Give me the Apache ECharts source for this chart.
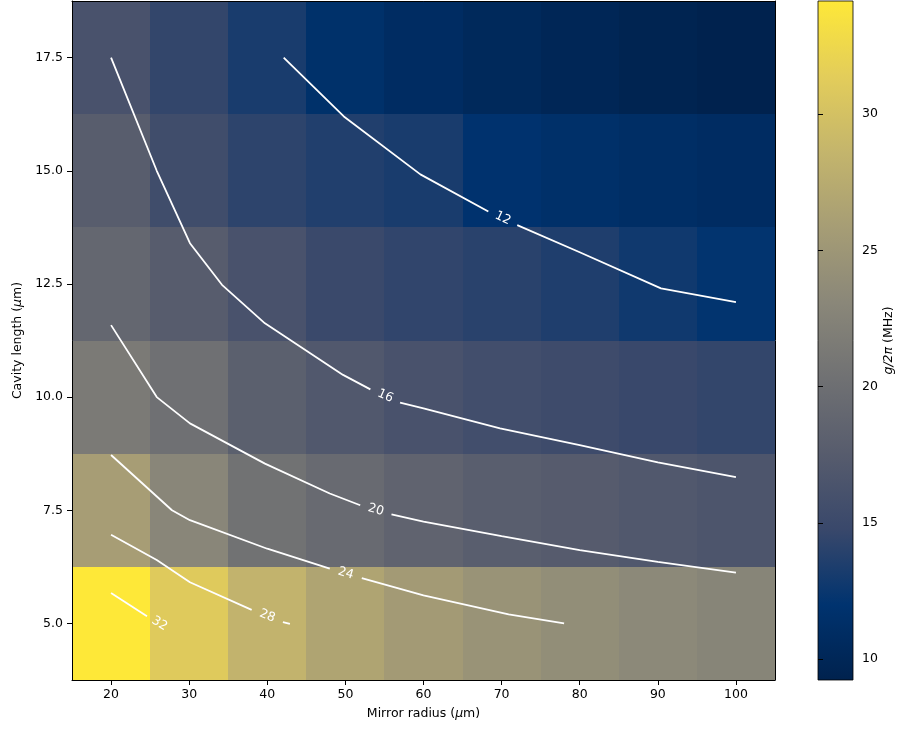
<!DOCTYPE html>
<html>
<head>
<meta charset="utf-8">
<script src="https://cdn.jsdelivr.net/npm/echarts@6/dist/echarts.min.js"></script>
<style>
  html, body { margin: 0; padding: 0; background: #ffffff; }
  #chart { width: 902px; height: 729px; }
</style>
</head>
<body>
<div id="chart"></div>
<script>
// Grid of simulated coupling strengths g/2π (MHz)
const radii = [20, 30, 40, 50, 60, 70, 80, 90, 100];      // mirror radius (µm)
const lengths = [5, 7.5, 10, 12.5, 15, 17.5];             // cavity length (µm)

// one row per cavity length, one value per mirror radius
const gL5    = [34.15, 31.0, 28.4, 26.7, 25.5, 24.6, 23.9, 23.3, 22.8];
const gL7_5  = [25.9, 23.0, 20.4, 19.4, 18.5, 17.8, 17.4, 17.0, 16.6];
const gL10   = [21.5, 20.2, 18.0, 17.0, 16.2, 15.6, 15.2, 14.8, 14.5];
const gL12_5 = [19.0, 17.5, 16.2, 14.9, 14.4, 14.0, 13.5, 12.8, 12.1];
const gL15   = [17.7, 15.4, 14.2, 13.6, 13.2, 11.9, 11.5, 11.2, 10.9];
const gL17_5 = [16.2, 14.5, 13.2, 11.6, 10.9, 10.3, 9.9, 9.5, 9.23];
const gRows = [gL5, gL7_5, gL10, gL12_5, gL15, gL17_5];

// contour levels and their traced paths, split where the inline label sits
const levels = [12, 16, 20, 24, 28, 32];
const c12Before = [[42.1, 17.5], [49.8, 16.2], [59.6, 14.92], [68.3, 14.1]];
const c12After  = [[72.0, 13.8], [80, 13.2], [90.4, 12.4], [100, 12.1]];
const c16Before = [[20, 17.5], [25.85, 15.0], [30.1, 13.4], [34.2, 12.48], [39.7, 11.63], [49.7, 10.49], [53.2, 10.17]];
const c16After  = [[57.0, 9.88], [60, 9.75], [69.8, 9.31], [80, 8.94], [90, 8.56], [100, 8.23]];
const c20Before = [[20, 11.59], [25.85, 10.0], [30.1, 9.42], [39.7, 8.53], [48, 7.87], [51.9, 7.61]];
const c20After  = [[55.9, 7.41], [60, 7.25], [70, 6.93], [80, 6.62], [90, 6.36], [100, 6.12]];
const c24Before = [[20, 8.72], [27.8, 7.5], [30.1, 7.28], [40, 6.65], [48, 6.21]];
const c24After  = [[52.1, 6.0], [60, 5.62], [70.9, 5.2], [78, 5.0]];
const c28Before = [[20, 6.96], [25.85, 6.4], [30.1, 5.91], [38, 5.3]];
const c28After  = [[42, 5.03], [42.9, 4.99]];
const c32Before = [[20, 5.67], [24.6, 5.16]];
const c32After  = [[27.8, 4.83]];
const contourParts = [
  [c12Before, c12After], [c16Before, c16After], [c20Before, c20After],
  [c24Before, c24After], [c28Before, c28After], [c32Before, c32After]
];

// colour bar tick values
const cbarTicks = [10, 15, 20, 25, 30];

// cividis colour map stops, low to high
const cividis = ['#00224e', '#00336f', '#39486b', '#575c6d', '#707173',
                 '#8a8779', '#a69d75', '#c4b56c', '#e3cd5a', '#fee838'];

const FONT = 'DejaVu Sans';
const FS = 12.5;

const heatData = [];
lengths.forEach((L, i) => radii.forEach((r, j) => heatData.push([r, L, gRows[i][j]])));
const gAll = heatData.map(d => d[2]);
const gMin = Math.min(...gAll);
const gMax = Math.max(...gAll);

const halfX = (radii[1] - radii[0]) / 2;
const halfY = (lengths[1] - lengths[0]) / 2;
const xMin = radii[0] - halfX, xMax = radii[radii.length - 1] + halfX;
const yMin = lengths[0] - halfY, yMax = lengths[lengths.length - 1] + halfY;

const chart = echarts.init(document.getElementById('chart'), null, { renderer: 'canvas' });

const lineSeries = [];
contourParts.forEach(parts => {
  parts.forEach(seg => {
    lineSeries.push({
      type: 'line',
      xAxisIndex: 0, yAxisIndex: 0,
      data: seg,
      showSymbol: false,
      symbol: 'none',
      smooth: false,
      silent: true,
      z: 3,
      lineStyle: { color: '#ffffff', width: 1.8 }
    });
  });
});

const labelData = contourParts.map((parts, k) => {
  const a = parts[0][parts[0].length - 1];
  const b = parts[1][0];
  return [a[0], a[1], b[0], b[1], levels[k]];
});

const textStyleBase = { color: '#000', fontSize: FS, fontFamily: FONT };
const italicRich = { i: { fontStyle: 'italic', fontSize: FS, fontFamily: FONT, color: '#000' } };

const option = {
  backgroundColor: '#ffffff',
  animation: false,
  grid: [
    { left: 72, right: 127, top: 1, bottom: 49 },
    { left: 818, width: 35, top: 1, bottom: 49 }
  ],
  visualMap: {
    type: 'continuous',
    show: false,
    min: gMin,
    max: gMax,
    dimension: 2,
    seriesIndex: 0,
    inRange: { color: cividis }
  },
  xAxis: [
    {
      gridIndex: 0, type: 'value', min: xMin, max: xMax, position: 'bottom', z: 10,
      axisLine: { show: true, onZero: false, lineStyle: { color: '#000', width: 1 } },
      axisTick: { show: true, customValues: radii, length: 5, lineStyle: { color: '#000', width: 1 } },
      axisLabel: Object.assign({ customValues: radii, margin: 8 }, textStyleBase),
      splitLine: { show: false },
      name: 'Mirror radius ({i|μ}m)',
      nameLocation: 'middle',
      nameGap: 27,
      nameTextStyle: Object.assign({ rich: italicRich }, textStyleBase)
    },
    {
      gridIndex: 0, type: 'value', min: xMin, max: xMax, position: 'top', z: 10,
      axisLine: { show: true, onZero: false, lineStyle: { color: '#000', width: 1 } },
      axisTick: { show: false }, axisLabel: { show: false }, splitLine: { show: false }
    },
    {
      gridIndex: 1, type: 'value', min: 0, max: 1, show: false
    }
  ],
  yAxis: [
    {
      gridIndex: 0, type: 'value', min: yMin, max: yMax, position: 'left', z: 10,
      axisLine: { show: true, onZero: false, lineStyle: { color: '#000', width: 1 } },
      axisTick: { show: true, customValues: lengths, length: 5, lineStyle: { color: '#000', width: 1 } },
      axisLabel: Object.assign({ customValues: lengths, margin: 9, formatter: v => Number(v).toFixed(1) }, textStyleBase),
      splitLine: { show: false },
      name: 'Cavity length ({i|μ}m)',
      nameLocation: 'middle',
      nameRotate: 90,
      nameGap: 46,
      nameTextStyle: Object.assign({ rich: italicRich }, textStyleBase)
    },
    {
      gridIndex: 0, type: 'value', min: yMin, max: yMax, position: 'right', z: 10,
      axisLine: { show: true, onZero: false, lineStyle: { color: '#000', width: 1 } },
      axisTick: { show: false }, axisLabel: { show: false }, splitLine: { show: false }
    },
    {
      gridIndex: 1, type: 'value', min: gMin, max: gMax, position: 'right', z: 10,
      axisLine: { show: false },
      axisTick: { show: true, customValues: cbarTicks, length: 5, lineStyle: { color: '#000', width: 1 } },
      axisLabel: Object.assign({ customValues: cbarTicks, margin: 9 }, textStyleBase),
      splitLine: { show: false },
      name: '{i|g/2π} (MHz)',
      nameLocation: 'middle',
      nameRotate: 90,
      nameGap: 28,
      nameTextStyle: Object.assign({ rich: italicRich }, textStyleBase)
    }
  ],
  series: [
    {
      type: 'custom',
      xAxisIndex: 0, yAxisIndex: 0,
      z: 1,
      silent: true,
      data: heatData,
      encode: { x: 0, y: 1 },
      renderItem: (params, api) => {
        const x = api.value(0), y = api.value(1);
        const p0 = api.coord([x - halfX, y + halfY]);
        const p1 = api.coord([x + halfX, y - halfY]);
        const x0 = Math.round(p0[0]), y0 = Math.round(p0[1]);
        const x1 = Math.round(p1[0]), y1 = Math.round(p1[1]);
        return {
          type: 'rect',
          shape: { x: x0, y: y0, width: x1 - x0, height: y1 - y0 },
          style: { fill: api.visual('color') }
        };
      }
    },
    ...lineSeries,
    {
      type: 'custom',
      xAxisIndex: 0, yAxisIndex: 0,
      z: 4,
      silent: true,
      data: labelData,
      encode: { x: 0, y: 1 },
      renderItem: (params, api) => {
        const a = api.coord([api.value(0), api.value(1)]);
        const b = api.coord([api.value(2), api.value(3)]);
        const ang = Math.atan2(b[1] - a[1], b[0] - a[0]);
        return {
          type: 'text',
          x: (a[0] + b[0]) / 2,
          y: (a[1] + b[1]) / 2,
          rotation: -ang,
          style: {
            text: String(api.value(4)),
            fill: '#ffffff',
            fontSize: FS,
            fontFamily: FONT,
            align: 'center',
            verticalAlign: 'middle'
          }
        };
      }
    },
    {
      type: 'custom',
      xAxisIndex: 2, yAxisIndex: 2,
      z: 2,
      silent: true,
      data: [[0, gMin, 1, gMax]],
      encode: { x: 0, y: 1 },
      renderItem: (params, api) => {
        const p0 = api.coord([api.value(0), api.value(3)]);
        const p1 = api.coord([api.value(2), api.value(1)]);
        const stops = cividis.map((c, i) => ({ offset: i / (cividis.length - 1), color: c }));
        return {
          type: 'rect',
          shape: { x: p0[0], y: p0[1], width: p1[0] - p0[0], height: p1[1] - p0[1] },
          style: {
            fill: new echarts.graphic.LinearGradient(0, 1, 0, 0, stops),
            stroke: '#000',
            lineWidth: 0.8
          }
        };
      }
    }
  ]
};

chart.setOption(option);
</script>
</body>
</html>
